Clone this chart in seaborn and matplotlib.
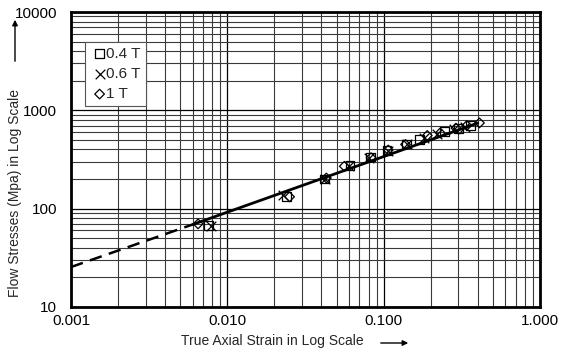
import matplotlib
matplotlib.use("Agg")
import matplotlib.pyplot as plt
import seaborn as sns
from matplotlib.patches import FancyArrowPatch
from matplotlib.ticker import LogLocator, FixedLocator, NullFormatter

# ---- data ----
strain_04 = [0.0076, 0.0240, 0.0420, 0.0610, 0.0820, 0.1050, 0.1400, 0.1700, 0.2450, 0.3000, 0.3600]
stress_04 = [67, 133, 200, 275, 335, 390, 455, 505, 612, 650, 700]
strain_06 = [0.0079, 0.0228, 0.0420, 0.0600, 0.0810, 0.1060, 0.1400, 0.1800, 0.2200, 0.2800, 0.3300]
stress_06 = [67, 138, 200, 272, 330, 385, 450, 520, 575, 640, 680]
strain_1 = [0.0065, 0.0250, 0.0430, 0.0560, 0.0830, 0.1070, 0.1380, 0.1900, 0.2300, 0.2900, 0.3400, 0.4100]
stress_1 = [70, 132, 205, 270, 330, 395, 450, 555, 590, 660, 700, 745]
fit_solid_x = [0.0060, 0.40]
fit_solid_y = [69, 742]
fit_dash_x = [0.001, 0.0060]
fit_dash_y = [25.5, 69]
x_ticks = [0.001, 0.01, 0.1, 1.0]
x_ticklabels = ["0.001", "0.010", "0.100", "1.000"]
y_ticks = [10, 100, 1000, 10000]
y_ticklabels = ["10", "100", "1000", "10000"]

sns.set_style("white")
plt.rcParams['font.family'] = ['Liberation Sans', 'DejaVu Sans']

fig = plt.figure(figsize=(5.68, 3.52), dpi=100)
ax = fig.add_axes([71/568, 1-307/352, (540-71)/568, (307-12)/352])
ax.set_xscale('log')
ax.set_yscale('log')
ax.set_xlim(0.001, 1.0)
ax.set_ylim(10, 10000)

# grid
ax.xaxis.set_major_locator(FixedLocator(x_ticks))
ax.yaxis.set_major_locator(FixedLocator(y_ticks))
ax.xaxis.set_minor_locator(LogLocator(base=10, subs=range(2, 10)))
ax.yaxis.set_minor_locator(LogLocator(base=10, subs=range(2, 10)))
ax.xaxis.set_minor_formatter(NullFormatter())
ax.yaxis.set_minor_formatter(NullFormatter())
ax.grid(True, which='major', color='black', linewidth=0.9)
ax.grid(True, which='minor', color='#3a3a3a', linewidth=0.8)
ax.set_axisbelow(True)

# fit lines
sns.lineplot(x=fit_dash_x, y=fit_dash_y, ax=ax, color='black', linewidth=1.8,
             linestyle=(0, (5, 3)), zorder=3)
sns.lineplot(x=fit_solid_x, y=fit_solid_y, ax=ax, color='black', linewidth=2.0, zorder=3)

# points
sns.scatterplot(x=strain_04, y=stress_04, ax=ax, marker='s', s=40, facecolor='none',
                edgecolor='black', linewidth=0.9, zorder=4, label='0.4 T')
sns.scatterplot(x=strain_06, y=stress_06, ax=ax, marker='x', s=48, color='black',
                linewidth=0.9, zorder=4, label='0.6 T')
sns.scatterplot(x=strain_1, y=stress_1, ax=ax, marker='D', s=24, facecolor='none',
                edgecolor='black', linewidth=0.9, zorder=4, label='1 T')

ax.set_xticks(x_ticks)
ax.set_xticklabels(x_ticklabels)
ax.set_yticks(y_ticks)
ax.set_yticklabels(y_ticklabels)
ax.tick_params(axis='x', which='major', direction='in', length=3, width=1.5,
               labelsize=11, pad=5, colors='black')
ax.tick_params(axis='y', which='major', direction='in', length=3, width=1.5,
               labelsize=11, pad=10, colors='black')
ax.tick_params(axis='both', which='minor', length=0)
ax.set_xlabel('')
ax.set_ylabel('')
for s in ax.spines.values():
    s.set_linewidth(2.0)
    s.set_color('black')

leg = ax.legend(loc='upper left', bbox_to_anchor=(0.03, 0.9), frameon=True,
                fancybox=False, edgecolor='#555555', framealpha=1, fontsize=11,
                handletextpad=-0.2, handlelength=1.2, borderpad=0.35, labelspacing=0.4,
                borderaxespad=0)
leg.get_frame().set_linewidth(0.8)

# axis labels with arrows
fig.text(272/568, 1-341/352, 'True Axial Strain in Log Scale', ha='center', va='center', fontsize=10)
fig.text(15/568, 1-193/352, 'Flow Stresses (Mpa) in Log Scale', ha='center', va='center',
         rotation=90, fontsize=10)
fig.add_artist(FancyArrowPatch((378/568, 1-343/352), (411/568, 1-343/352),
               transform=fig.transFigure, arrowstyle='-|>', mutation_scale=8, color='black', lw=1))
fig.add_artist(FancyArrowPatch((15/568, 1-64/352), (15/568, 1-17/352),
               transform=fig.transFigure, arrowstyle='-|>', mutation_scale=8, color='black', lw=1))

fig.savefig('out.png', dpi=100)
